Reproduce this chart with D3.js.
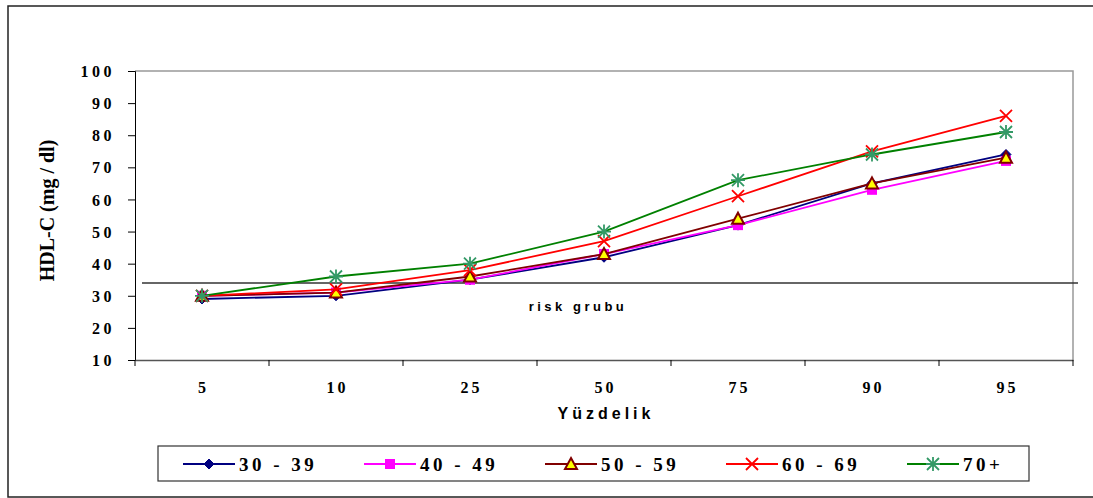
<!DOCTYPE html>
<html>
<head>
<meta charset="utf-8">
<script src="https://cdn.jsdelivr.net/npm/d3@7"></script>
<style>
  body { margin: 0; background: #fff; }
  svg { display: block; }
</style>
</head>
<body>
<svg id="chart"></svg>
<script>
// categories (percentiles) and series values
const percentiles = ["5", "10", "25", "50", "75", "90", "95"];
const seriesNames = ["30 - 39", "40 - 49", "50 - 59", "60 - 69", "70+"];
const age30_39 = [29, 30, 35, 42, 52, 65, 74];
const age40_49 = [30, 31, 35, 43, 52, 63, 72];
const age50_59 = [30, 31, 36, 43, 54, 65, 73];
const age60_69 = [30, 32, 38, 47, 61, 75, 86];
const age70 = [30, 36, 40, 50, 66, 74, 81];
const yTicks = [10, 20, 30, 40, 50, 60, 70, 80, 90, 100];
const riskLevel = 34;

const width = 1093, height = 498;
const SERIF = '"Liberation Serif", "Times New Roman", serif';
const SANS = '"Liberation Sans", Arial, sans-serif';

const series = [
  {name: seriesNames[0], values: age30_39, line: "#000080", marker: "diamond"},
  {name: seriesNames[1], values: age40_49, line: "#ff00ff", marker: "square"},
  {name: seriesNames[2], values: age50_59, line: "#800000", marker: "triangle"},
  {name: seriesNames[3], values: age60_69, line: "#ff0000", marker: "cross"},
  {name: seriesNames[4], values: age70, line: "#008000", marker: "star"}
];

const svg = d3.select("#chart").attr("width", width).attr("height", height);

// outer frame
svg.append("rect")
  .attr("x", 8).attr("y", 6).attr("width", 1100).attr("height", 491)
  .attr("fill", "none").attr("stroke", "#222").attr("stroke-width", 1.5);

const x = d3.scaleBand().domain(percentiles).range([135, 1073]);
const y = d3.scaleLinear().domain([10, 100]).range([360, 71]);

// plot area border (gray top/right)
svg.append("path")
  .attr("d", `M${x.range()[0]},${y(100)}H${x.range()[1]}V${y(10)}`)
  .attr("fill", "none").attr("stroke", "#999").attr("stroke-width", 1.5);

// y axis
const yAxis = svg.append("g")
  .attr("transform", `translate(${x.range()[0]},0)`)
  .call(d3.axisLeft(y).tickValues(yTicks).tickSize(7).tickPadding(13).tickFormat(d3.format("d")));
yAxis.select(".domain").attr("stroke", "#000");
yAxis.selectAll("text")
  .style("font-family", SERIF).style("font-weight", "bold").style("font-size", "16px")
  .attr("fill", "#000").attr("dy", "0.35em")
  .style("letter-spacing", "3.5px");

// x axis
const xAxis = svg.append("g")
  .attr("transform", `translate(0,${y(10)})`)
  .call(d3.axisBottom(x).tickSize(0).tickPadding(22));
xAxis.select(".domain").attr("stroke", "#555").attr("stroke-width", 1.5);
xAxis.selectAll("text")
  .style("font-family", SERIF).style("font-weight", "bold").style("font-size", "16px")
  .attr("fill", "#000")
  .attr("dx", "1.5px")
  .style("letter-spacing", "3px");
// ticks at band boundaries
const bounds = percentiles.map(p => x(p)).concat([x.range()[1]]);
svg.append("g").selectAll("line").data(bounds).join("line")
  .attr("x1", d => d).attr("x2", d => d)
  .attr("y1", y(10)).attr("y2", y(10) + 6)
  .attr("stroke", "#000");

// axis titles
svg.append("text")
  .style("font-family", SERIF).style("font-weight", "bold").style("font-size", "20px")
  .attr("transform", `translate(54,${(y(10) + y(100)) / 2 - 5}) rotate(-90)`)
  .attr("text-anchor", "middle")
  .text("HDL-C (mg / dl)");

svg.append("text")
  .style("font-family", SANS).style("font-weight", "bold").style("font-size", "16px")
  .attr("x", 606).attr("y", 419)
  .attr("text-anchor", "middle")
  .style("letter-spacing", "4px")
  .text("Yüzdelik");

// risk line
svg.append("line")
  .attr("x1", 142).attr("x2", 1078)
  .attr("y1", y(riskLevel)).attr("y2", y(riskLevel))
  .attr("stroke", "#333").attr("stroke-width", 1.5);
svg.append("text")
  .style("font-family", SANS).style("font-weight", "bold").style("font-size", "13px")
  .attr("x", 578).attr("y", 311)
  .attr("text-anchor", "middle")
  .style("letter-spacing", "3.5px")
  .text("risk grubu");

// markers
function drawMarker(g, type, cx, cy) {
  if (type === "diamond") {
    g.append("path").attr("d", `M${cx},${cy - 5}L${cx + 5},${cy}L${cx},${cy + 5}L${cx - 5},${cy}Z`)
      .attr("fill", "#000080").attr("stroke", "#000080");
  } else if (type === "square") {
    g.append("rect").attr("x", cx - 5).attr("y", cy - 5).attr("width", 10).attr("height", 10)
      .attr("fill", "#ff00ff");
  } else if (type === "triangle") {
    g.append("path").attr("d", `M${cx},${cy - 6}L${cx + 6},${cy + 5}L${cx - 6},${cy + 5}Z`)
      .attr("fill", "#ffff00").attr("stroke", "#800000").attr("stroke-width", 2);
  } else if (type === "cross") {
    g.append("path").attr("d", `M${cx - 6},${cy - 6}L${cx + 6},${cy + 6}M${cx + 6},${cy - 6}L${cx - 6},${cy + 6}`)
      .attr("stroke", "#ff0000").attr("stroke-width", 1.8);
  } else if (type === "star") {
    g.append("path").attr("d",
      `M${cx - 6},${cy - 6}L${cx + 6},${cy + 6}M${cx + 6},${cy - 6}L${cx - 6},${cy + 6}M${cx},${cy - 7}V${cy + 7}M${cx - 7},${cy}H${cx + 7}`)
      .attr("stroke", "#339966").attr("stroke-width", 1.8);
  }
}

const line = d3.line()
  .x((d, i) => x(percentiles[i]) + x.bandwidth() / 2)
  .y(d => y(d));

series.forEach(s => {
  const g = svg.append("g");
  g.append("path").datum(s.values)
    .attr("d", line)
    .attr("fill", "none").attr("stroke", s.line).attr("stroke-width", 1.8);
  s.values.forEach((v, i) => {
    drawMarker(g, s.marker, x(percentiles[i]) + x.bandwidth() / 2, y(v));
  });
});

// legend
svg.append("rect")
  .attr("x", 158).attr("y", 446).attr("width", 871).attr("height", 35)
  .attr("fill", "#fff").attr("stroke", "#333").attr("stroke-width", 1.2);

series.forEach((s, i) => {
  const lx = 183 + i * 181, ly = 464;
  const g = svg.append("g");
  g.append("line").attr("x1", lx).attr("x2", lx + 52).attr("y1", ly).attr("y2", ly)
    .attr("stroke", s.line).attr("stroke-width", 2);
  drawMarker(g, s.marker, lx + 26, ly);
  g.append("text")
    .style("font-family", SERIF).style("font-weight", "bold").style("font-size", "19px")
    .attr("x", lx + 56).attr("y", ly + 7)
    .style("letter-spacing", "3.5px")
    .text(s.name);
});
</script>
</body>
</html>
